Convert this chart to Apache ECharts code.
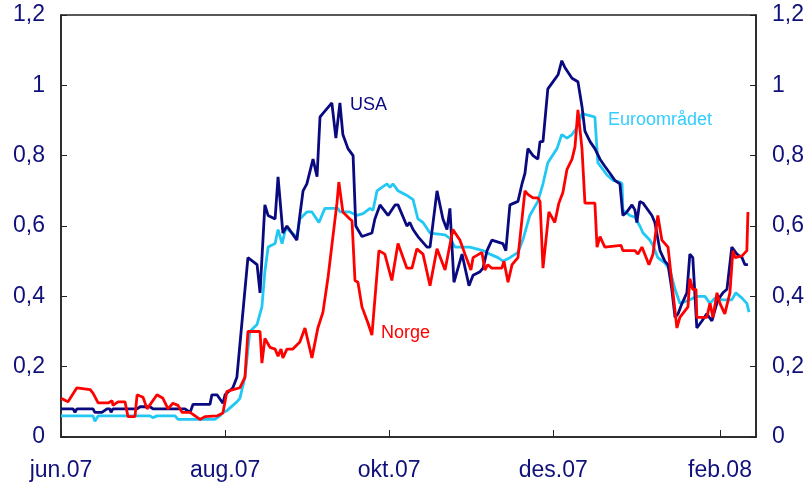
<!DOCTYPE html>
<html><head><meta charset="utf-8">
<script src="https://cdn.jsdelivr.net/npm/echarts@6/dist/echarts.min.js"></script>
<style>html,body{margin:0;padding:0;background:#fff}#c{width:810px;height:490px}</style>
</head><body><div id="c"></div>
<script>
// Day offsets from 1 June 2007, values in percentage points
const startDate = '2007-06-01';
const tickDates = ['2007-06-01', '2007-08-01', '2007-10-01', '2007-12-01', '2008-02-01'];
const tickLabels = ['jun.07', 'aug.07', 'okt.07', 'des.07', 'feb.08'];

const usa = [[0,0.08],[4.5,0.08],[5.2,0.07],[5.9,0.08],[11.9,0.08],[12.6,0.07],[15.2,0.07],[17.1,0.08],[18.2,0.08],[18.6,0.07],[19.3,0.08],[28.3,0.08],[29.4,0.086],[33.1,0.086],[34.2,0.08],[46.1,0.08],[48.0,0.07],[49.1,0.093],[55.4,0.093],[56.1,0.12],[58.0,0.12],[60.2,0.096],[61.0,0.12],[63.9,0.14],[65.4,0.17],[69.5,0.51],[72.9,0.49],[74.0,0.41],[75.8,0.66],[77.0,0.63],[79.6,0.62],[80.7,0.74],[82.5,0.58],[84.0,0.60],[87.7,0.56],[88.8,0.63],[90.0,0.70],[91.4,0.72],[93.7,0.79],[95.2,0.74],[96.3,0.91],[97.4,0.92],[100.7,0.95],[102.2,0.85],[103.7,0.95],[104.8,0.86],[106.7,0.82],[108.6,0.80],[109.6,0.60],[111.9,0.57],[115.6,0.58],[116.7,0.62],[118.6,0.66],[121.6,0.63],[124.2,0.66],[125.3,0.66],[128.6,0.60],[129.7,0.61],[130.9,0.59],[132.7,0.57],[136.1,0.54],[137.2,0.54],[139.8,0.70],[142.0,0.62],[143.5,0.59],[144.6,0.65],[146.1,0.44],[149.1,0.52],[151.7,0.43],[153.2,0.46],[155.8,0.47],[156.9,0.48],[158.4,0.53],[160.2,0.56],[164.3,0.55],[165.4,0.53],[166.9,0.66],[169.9,0.67],[171.4,0.72],[172.5,0.75],[173.6,0.82],[175.5,0.80],[177.3,0.79],[178.1,0.84],[179.2,0.84],[181.0,0.99],[182.9,1.01],[184.8,1.03],[186.2,1.07],[187.4,1.05],[190.0,1.02],[192.2,1.01],[193.7,0.94],[194.8,0.87],[196.7,0.84],[198.5,0.82],[200.4,0.79],[202.2,0.77],[204.1,0.75],[205.9,0.73],[207.8,0.72],[208.9,0.63],[210.4,0.64],[212.3,0.66],[213.4,0.645],[214.1,0.61],[215.2,0.67],[216.4,0.665],[219.7,0.63],[220.8,0.61],[222.7,0.53],[224.5,0.50],[225.7,0.49],[227.1,0.42],[228.3,0.34],[229.4,0.35],[230.9,0.38],[232.7,0.41],[233.8,0.52],[234.9,0.51],[236.4,0.31],[238.3,0.33],[240.1,0.35],[242.0,0.33],[243.1,0.36],[244.2,0.39],[246.1,0.41],[247.6,0.42],[249.4,0.54],[251.3,0.52],[253.2,0.51],[254.3,0.49],[255.4,0.49]];

const euro = [[0,0.06],[11.9,0.06],[12.6,0.045],[13.8,0.06],[33.1,0.06],[34.2,0.055],[35.7,0.06],[42.4,0.06],[43.5,0.05],[57.2,0.05],[59.1,0.06],[60.2,0.07],[61.7,0.075],[63.9,0.09],[65.4,0.10],[66.5,0.11],[68.4,0.17],[70.2,0.30],[72.9,0.32],[74.7,0.37],[75.8,0.47],[77.0,0.54],[79.6,0.55],[80.7,0.59],[82.2,0.55],[83.6,0.595],[85.9,0.58],[87.7,0.57],[88.8,0.62],[91.4,0.64],[93.3,0.64],[95.9,0.61],[98.1,0.65],[103.0,0.65],[103.7,0.64],[107.4,0.64],[110.0,0.63],[112.3,0.635],[114.9,0.65],[116.0,0.645],[117.5,0.70],[119.3,0.71],[121.2,0.72],[122.3,0.71],[123.4,0.72],[125.3,0.70],[129.0,0.685],[130.9,0.675],[131.6,0.68],[132.7,0.62],[134.6,0.61],[137.2,0.58],[142.8,0.575],[144.6,0.565],[146.5,0.54],[152.0,0.54],[156.9,0.53],[159.5,0.52],[162.5,0.51],[164.3,0.50],[166.9,0.51],[169.9,0.525],[171.7,0.56],[174.3,0.63],[177.3,0.67],[179.2,0.72],[181.0,0.78],[184.4,0.82],[186.2,0.86],[188.1,0.85],[190.0,0.86],[191.8,0.88],[193.7,0.92],[195.9,0.915],[198.5,0.91],[199.6,0.78],[203.0,0.745],[205.2,0.73],[207.8,0.725],[208.6,0.72],[208.9,0.645],[211.5,0.63],[213.4,0.625],[215.2,0.60],[216.4,0.58],[218.9,0.56],[220.1,0.545],[221.9,0.51],[224.5,0.495],[226.4,0.475],[228.3,0.42],[230.1,0.38],[232.0,0.385],[233.8,0.39],[236.4,0.40],[239.4,0.40],[241.3,0.38],[243.1,0.395],[246.1,0.39],[249.4,0.39],[250.9,0.41],[253.2,0.395],[255.0,0.38],[255.8,0.355]];

const norge = [[0,0.11],[2.6,0.10],[5.9,0.14],[10.8,0.135],[11.9,0.125],[13.8,0.097],[17.5,0.097],[19.0,0.103],[19.3,0.09],[21.2,0.10],[23.8,0.10],[24.9,0.058],[27.5,0.058],[28.3,0.12],[30.5,0.113],[32.0,0.08],[35.7,0.12],[37.9,0.11],[39.8,0.08],[41.6,0.096],[43.5,0.09],[45.0,0.07],[48.0,0.07],[51.7,0.05],[53.5,0.058],[58.0,0.06],[60.2,0.068],[61.7,0.13],[66.5,0.14],[68.4,0.17],[69.5,0.30],[74.0,0.30],[74.7,0.21],[75.8,0.28],[77.7,0.255],[79.6,0.25],[80.7,0.23],[81.8,0.25],[82.5,0.225],[84.0,0.25],[86.2,0.25],[88.8,0.27],[90.7,0.31],[93.3,0.225],[95.5,0.31],[97.4,0.355],[99.3,0.455],[101.1,0.57],[102.6,0.665],[103.3,0.725],[104.8,0.64],[107.4,0.62],[108.2,0.615],[109.3,0.445],[110.4,0.44],[111.9,0.37],[114.1,0.325],[115.6,0.29],[118.2,0.53],[120.4,0.52],[123.0,0.445],[125.3,0.55],[128.6,0.48],[130.5,0.48],[132.3,0.535],[134.6,0.52],[137.2,0.43],[139.8,0.535],[142.8,0.475],[145.7,0.59],[148.3,0.56],[150.2,0.52],[152.4,0.475],[153.2,0.51],[156.5,0.525],[157.6,0.475],[158.7,0.49],[160.2,0.48],[163.9,0.48],[164.7,0.50],[166.2,0.44],[167.7,0.49],[169.9,0.51],[171.4,0.62],[172.5,0.70],[173.6,0.69],[175.5,0.68],[177.3,0.68],[178.1,0.67],[179.2,0.48],[181.4,0.64],[183.6,0.61],[185.1,0.665],[186.6,0.695],[188.1,0.76],[190.0,0.79],[191.1,0.825],[192.2,0.93],[193.7,0.82],[194.8,0.665],[198.5,0.665],[199.3,0.54],[200.4,0.57],[202.2,0.54],[208.2,0.545],[208.9,0.53],[213.4,0.53],[214.5,0.52],[216.0,0.54],[218.6,0.49],[220.1,0.52],[221.9,0.63],[223.4,0.56],[225.7,0.54],[227.1,0.44],[229.0,0.31],[230.1,0.34],[233.1,0.37],[233.8,0.45],[234.9,0.42],[236.1,0.42],[236.4,0.34],[240.1,0.34],[241.3,0.38],[242.4,0.34],[243.9,0.41],[245.0,0.38],[246.8,0.35],[248.7,0.41],[249.8,0.53],[250.6,0.51],[253.2,0.515],[255.0,0.53],[255.4,0.64]];

const lastDay = 258.4;

const DAY = 86400000;
const utc = s => { const a = s.split('-').map(Number); return Date.UTC(a[0], a[1]-1, a[2]); };
const base = utc(startDate);
const tickDays = tickDates.map(s => Math.round((utc(s) - base) / DAY));

const axisColor = '#222';
const labelColor = '#10107a';
const font = 'Liberation Sans, Arial, sans-serif';
const yFmt = v => String(Number(Number(v).toFixed(1))).replace('.', ',');

function yAxis(pos) {
  return {
    type: 'value', position: pos, min: 0, max: 1.2, interval: 0.2,
    axisLine: { show: true, lineStyle: { color: axisColor, width: 1.5 } },
    axisTick: { show: true, inside: true, length: 6, lineStyle: { color: axisColor, width: 1 } },
    axisLabel: { color: labelColor, fontSize: 23, fontFamily: font, margin: 16, formatter: yFmt },
    splitLine: { show: false }
  };
}

const chart = echarts.init(document.getElementById('c'), null, { renderer: 'canvas' });
chart.setOption({
  animation: false,
  backgroundColor: '#fff',
  grid: { left: 61, right: 54, top: 15, bottom: 53, show: true, borderColor: axisColor, borderWidth: 1.5, backgroundColor: 'transparent' },
  xAxis: {
    type: 'value', min: 0, max: lastDay,
    axisLine: { show: true, lineStyle: { color: axisColor, width: 1.5 } },
    axisTick: { show: true, inside: true, length: 7, customValues: tickDays, lineStyle: { color: axisColor, width: 1 } },
    axisLabel: {
      color: labelColor, fontSize: 23, fontFamily: font, margin: 22,
      customValues: tickDays,
      formatter: v => { const i = tickDays.indexOf(Math.round(v)); return i >= 0 ? tickLabels[i] : ''; }
    },
    splitLine: { show: false }
  },
  yAxis: [yAxis('left'), yAxis('right')],
  series: [
    { name: 'Euroområdet', type: 'line', data: euro, showSymbol: false, lineStyle: { color: '#22c8f4', width: 2.8 }, itemStyle: { color: '#22c8f4' } },
    { name: 'USA', type: 'line', data: usa, showSymbol: false, lineStyle: { color: '#0a0a80', width: 2.8 }, itemStyle: { color: '#0a0a80' } },
    { name: 'Norge', type: 'line', data: norge, showSymbol: false, lineStyle: { color: '#ff0000', width: 2.8 }, itemStyle: { color: '#ff0000' } }
  ],
  graphic: [
    { type: 'text', left: 350, top: 96, style: { text: 'USA', fill: '#0a0a80', font: '18px ' + font } },
    { type: 'text', left: 608, top: 111, style: { text: 'Euroområdet', fill: '#33ccff', font: '18px ' + font } },
    { type: 'text', left: 381, top: 324, style: { text: 'Norge', fill: '#ff0000', font: '18px ' + font } }
  ]
});
</script>
</body></html>
